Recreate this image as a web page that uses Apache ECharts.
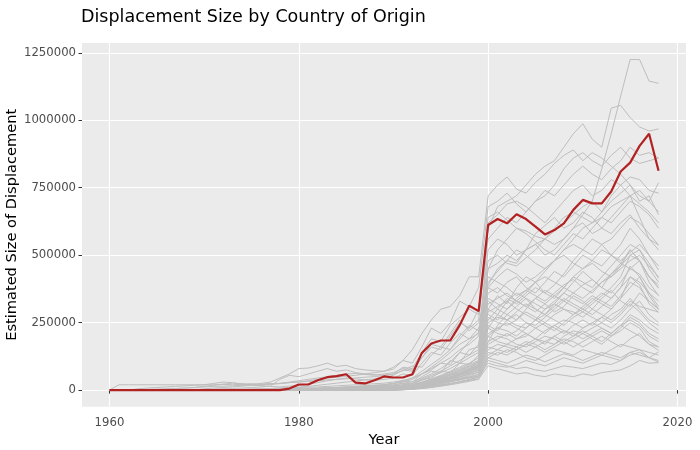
<!DOCTYPE html>
<html>
<head>
<meta charset="utf-8">
<script src="https://cdn.jsdelivr.net/npm/echarts@6/dist/echarts.min.js"></script>
<style>html,body{margin:0;padding:0;background:#fff}#c{width:700px;height:450px}</style>
</head>
<body>
<div id="c"></div>
<script>
// Years (x categories)
const years = [1960,1961,1962,1963,1964,1965,1966,1967,1968,1969,
1970,1971,1972,1973,1974,1975,1976,1977,1978,1979,
1980,1981,1982,1983,1984,1985,1986,1987,1988,1989,
1990,1991,1992,1993,1994,1995,1996,1997,1998,1999,
2000,2001,2002,2003,2004,2005,2006,2007,2008,2009,
2010,2011,2012,2013,2014,2015,2016,2017,2018];

// Highlighted country (full units)
const highlight = [0,0,0,0,0,0,0,0,0,0,
0,0,0,0,0,0,0,0,0,6000,
21000,21000,37000,48000,52000,59000,28000,25000,37000,51000,
47000,47000,59000,138000,173000,184000,184000,241000,313000,293000,
612000,634000,618000,652000,634000,606000,577000,593000,618000,668000,
705000,692000,692000,736000,810000,843000,905000,950000,813000];

// Other countries (values in thousands)
const UNIT = 1000;
const g1 = [0,0,0,0,0,0,0,0,0,0, 0,0,1,1,1,2,2,3,3,4, 5,6,7,8,9,10,12,13,15,17, 20,25,32,45,60,80,105,140,180,215, 390,450,480,470,520,540,560,590,620,650, 680,700,820,950,1090,1225,1225,1145,1137];
const g2 = [0,0,0,0,0,0,0,0,0,0, 0,0,0,1,1,1,2,2,3,3, 4,5,6,7,8,9,11,13,16,20, 25,32,45,70,95,120,150,190,230,260, 600,680,700,720,760,800,830,850,900,950, 987,930,900,1045,1055,1010,975,960,968];
const g3 = [0,20,20,20,20,20,20,20,20,20, 20,20,22,20,22,24,22,25,24,28, 30,35,40,45,48,52,55,60,65,70, 85,110,150,210,260,300,310,350,420,420, 720,760,790,745,730,770,800,840,870,890, 850,880,860,830,800,760,720,700,768];
const g4 = [0,0,0,2,3,4,5,6,8,10, 12,14,15,16,18,20,25,30,45,60, 80,82,90,100,88,92,80,75,72,70, 78,110,100,160,230,210,250,330,310,380, 680,700,730,690,660,700,740,720,760,800, 830,800,780,820,850,900,870,880,860];
const g5 = [0,0,0,0,0,1,1,2,2,3, 3,4,5,6,8,10,12,15,40,55, 50,60,70,80,70,75,65,60,58,55, 60,85,80,140,190,180,240,270,300,280, 640,660,630,600,590,570,560,540,560,600, 650,700,660,720,760,790,780,740,730];
const g6 = [0,0,0,0,0,0,0,0,0,0, 1,1,2,2,3,4,5,6,8,10, 12,14,18,22,26,30,34,38,42,48, 55,75,70,120,160,150,200,250,230,300, 560,600,640,620,660,700,720,760,820,860, 880,850,830,870,900,860,840,850,860];
const g7 = [0,0,0,0,0,0,0,0,0,0, 0,0,0,0,0,0,0,0,0,0, 2,4,6,8,10,12,14,16,18,20, 25,30,40,60,85,110,140,170,190,210, 520,560,540,500,520,580,610,640,600,620, 660,640,600,580,620,650,600,560,538];
const g8 = [0,0,0,0,0,0,0,0,0,0, 0,0,1,2,3,4,5,6,7,8, 10,11,12,14,16,18,20,22,24,26, 30,36,45,60,80,100,120,150,170,200, 480,500,470,460,490,520,560,600,640,660, 640,620,660,700,730,760,700,720,650];
const g9 = [0,0,0,0,0,0,0,0,0,0, 0,1,1,1,2,2,3,3,4,5, 6,7,8,9,10,12,14,16,18,20, 24,35,30,60,75,100,95,140,130,170, 450,470,500,480,520,540,500,520,560,600, 620,580,600,640,680,720,690,660,620];
const g10 = [0,0,0,0,0,0,0,0,0,0, 0,0,0,0,0,0,1,1,2,2, 3,4,5,6,7,8,9,10,12,14, 18,26,24,50,70,65,110,100,150,160, 420,400,380,350,370,400,440,480,520,560, 600,620,640,680,700,720,640,560,520];
const g11 = [0,0,0,0,0,0,0,0,0,0, 0,0,0,0,0,0,0,0,0,0, 1,2,3,4,5,6,8,10,12,14, 16,20,26,40,55,70,90,110,130,150, 400,440,480,520,500,470,450,480,520,540, 520,500,540,560,600,640,620,580,538];
const g12 = [0,0,0,0,0,0,0,0,0,0, 0,0,0,0,0,0,0,0,1,1, 2,3,4,5,6,7,8,9,10,12, 14,18,24,36,50,65,80,100,120,140, 380,360,400,420,380,360,400,440,420,460, 500,480,460,500,540,600,560,500,445];
const g13 = [0,0,0,0,0,0,0,0,0,0, 0,0,0,0,0,0,0,0,0,0, 0,1,2,3,4,5,6,7,8,10, 12,20,18,40,45,70,65,100,95,130, 360,380,350,330,360,400,420,400,380,420, 450,470,440,420,460,500,520,470,415];
const g14 = [0,0,0,0,0,0,0,0,0,0, 0,0,0,0,0,0,0,0,0,0, 0,0,1,2,3,4,5,6,7,8, 10,14,20,30,42,55,70,85,100,120, 340,320,300,340,370,350,330,360,390,410, 380,360,400,430,470,520,480,420,378];
const g15 = [0,0,0,0,0,0,0,0,0,0, 0,0,0,0,0,0,0,0,0,0, 0,0,0,1,2,3,4,5,6,7, 9,12,18,28,40,52,66,80,95,110, 320,340,360,330,310,340,370,350,330,360, 390,410,380,360,400,450,430,380,352];
const g16 = [0,0,0,0,0,0,0,0,0,0, 0,0,0,0,0,0,0,0,0,0, 0,0,0,0,1,2,3,4,5,6, 8,11,16,26,38,50,62,76,90,105, 300,280,260,290,320,300,280,310,340,320, 300,330,360,340,380,420,400,360,330];
const g17 = [0,0,0,0,0,0,0,0,0,0, 0,0,0,0,0,0,0,0,0,0, 0,0,0,0,0,1,2,3,4,5, 7,10,14,24,35,46,58,70,84,100, 290,310,330,300,280,260,300,320,300,280, 310,340,320,300,340,380,420,360,310];
const g18 = [0,0,0,0,0,0,0,0,0,0, 0,0,0,0,0,0,0,0,0,0, 0,0,0,0,0,0,1,2,3,4, 6,9,13,22,32,42,54,66,80,95, 270,250,240,260,290,270,250,280,300,290, 270,300,280,260,290,330,310,300,289];
const g19 = [0,0,0,0,0,0,0,0,0,0, 0,0,0,0,0,0,0,0,0,0, 0,0,0,0,0,0,0,1,2,3, 5,8,12,20,30,40,50,62,75,90, 250,270,260,240,230,260,280,260,240,270, 290,270,250,280,300,340,300,260,240];
const g20 = [0,0,0,0,0,0,0,0,0,0, 0,0,0,0,0,0,0,0,0,0, 0,0,0,0,0,0,0,0,1,2, 4,7,11,18,28,38,48,58,70,85, 230,210,200,220,250,230,210,240,260,250, 230,250,270,250,280,320,290,250,222];
const g21 = [0,0,0,0,0,0,0,0,0,0, 0,0,0,0,0,0,0,0,0,0, 0,0,0,0,0,0,0,0,0,1, 3,6,10,16,26,35,45,55,66,80, 210,230,250,230,210,190,220,240,220,200, 230,250,230,210,240,280,260,230,210];
const g22 = [0,0,0,0,0,0,0,0,0,0, 0,0,0,0,0,0,0,0,0,0, 1,2,3,4,5,6,7,8,9,10, 12,15,20,28,38,48,56,64,72,80, 200,180,170,190,210,190,170,200,220,210, 190,210,230,210,240,260,240,200,180];
const g23 = [0,0,0,0,0,0,0,0,0,0, 0,0,0,0,0,0,0,0,0,0, 0,0,1,2,3,4,5,6,7,8, 10,13,17,24,32,40,48,56,64,72, 180,200,190,170,160,180,200,190,170,190, 210,190,170,200,220,250,230,180,160];
const g24 = [0,0,0,0,0,0,0,0,0,0, 0,0,0,0,0,0,0,0,0,0, 0,0,0,0,1,2,3,4,5,6, 8,11,15,21,28,35,42,50,58,66, 160,150,140,160,180,170,150,170,190,180, 160,180,200,180,160,190,210,170,148];
const g25 = [0,0,0,0,0,0,0,0,0,0, 0,0,0,0,0,0,0,0,0,0, 0,0,0,0,0,0,1,2,3,4, 6,9,13,18,24,30,36,43,50,58, 140,130,150,140,120,110,130,150,140,130, 150,140,130,150,170,160,150,140,130];
const g26 = [0,0,0,0,0,0,0,0,0,0, 0,0,0,0,0,0,0,0,0,0, 0,0,0,0,0,0,0,0,1,2, 4,7,10,15,20,26,32,38,45,52, 120,110,100,115,130,120,105,120,135,125, 110,125,140,130,120,140,150,120,104];
const g27 = [0,0,0,0,0,0,0,0,0,0, 0,0,0,0,0,0,0,0,0,0, 0,0,0,0,0,0,0,0,0,1, 2,4,7,11,15,20,25,30,36,42, 90,80,70,60,65,55,50,60,55,50, 60,55,65,70,75,90,110,100,102];
const g28 = [0,0,0,0,0,0,0,0,0,0, 0,0,0,0,0,0,0,0,0,0, 0,0,0,0,0,0,0,1,2,3, 5,8,12,17,22,28,34,40,46,52, 100,90,85,95,110,100,90,105,120,110, 100,115,130,120,110,130,140,120,142];
const g29 = [0,0,0,0,0,0,0,0,0,0, 0,0,0,0,0,0,0,0,0,0, 0,0,0,0,0,1,2,3,4,5, 7,10,15,24,34,45,58,72,88,105, 260,300,340,320,350,380,360,340,380,420, 400,380,420,460,500,540,520,450,400];
const g30 = [0,0,0,0,0,0,0,0,0,0, 0,0,0,0,0,0,0,0,0,0, 0,0,0,0,0,0,0,1,2,3, 5,8,12,19,28,38,49,60,72,86, 240,220,260,280,250,240,270,300,330,310, 290,320,350,380,420,500,480,420,380];
const g31 = [0,0,0,0,0,0,0,0,0,0, 0,0,0,0,0,0,0,0,0,0, 0,0,0,0,0,0,0,0,0,1, 3,5,9,15,22,30,40,50,62,75, 200,230,220,200,230,260,240,220,250,280, 300,280,310,340,380,460,420,350,300];
const g32 = [0,0,0,0,0,0,0,0,0,0, 0,0,0,0,0,0,0,0,0,0, 0,0,0,0,0,0,0,0,0,0, 2,4,7,12,18,26,34,44,54,66, 170,190,210,190,200,230,250,230,210,240, 260,240,270,300,340,420,390,320,289];
const g33 = [0,0,0,0,0,0,0,0,0,0, 0,0,0,0,0,0,0,0,0,0, 0,0,0,0,0,0,0,0,0,0, 1,3,6,10,15,22,30,38,48,58, 150,170,160,150,170,190,180,170,200,220, 210,230,250,230,260,300,330,280,250];
const g34 = [0,0,0,0,0,0,0,0,0,0, 0,0,0,0,0,0,0,0,0,0, 0,0,0,0,0,0,0,0,0,0, 1,2,4,8,12,18,24,32,40,50, 130,150,170,160,140,160,180,200,180,160, 180,200,220,200,230,270,250,210,190];
const g35 = [0,0,0,5,8,10,12,14,16,18, 20,25,30,28,22,20,18,22,25,30, 35,40,45,50,55,60,62,58,55,60, 65,80,75,120,170,160,210,260,220,250, 380,420,450,430,400,420,450,480,500,470, 450,480,520,500,480,510,540,500,460];
const g36 = [0,0,0,0,0,2,4,6,8,10, 14,18,22,26,24,20,16,14,12,15, 18,22,28,35,40,45,42,38,36,40, 45,60,55,100,140,130,175,210,190,230, 330,300,280,310,340,320,300,330,360,340, 320,350,330,310,350,400,380,330,300];
const g37 = [0,0,0,0,0,0,0,0,0,0, 5,8,10,12,15,18,20,22,25,28, 30,32,35,38,40,42,45,48,50,55, 60,72,90,85,130,160,150,200,240,220, 280,260,300,330,310,290,320,350,380,360, 340,370,400,420,450,480,500,460,420];
const g38 = [0,0,0,0,0,0,0,0,0,0, 0,0,0,0,0,0,0,0,0,0, 0,0,0,0,0,0,0,0,0,0, 0,1,3,6,10,15,20,26,33,40, 110,100,90,80,85,75,70,80,90,85, 80,90,100,95,110,140,130,120,110];
const g39 = [0,0,0,0,0,0,0,0,0,0, 0,0,0,0,0,0,0,0,0,0, 0,0,0,0,0,0,0,0,0,0, 0,2,5,10,18,28,40,55,70,90, 300,350,320,380,420,400,360,390,430,480, 520,560,540,500,470,450,480,420,390];
const g40 = [0,0,0,0,0,0,0,0,0,0, 0,0,0,0,0,0,0,0,0,0, 0,0,0,0,0,1,1,2,2,3, 3,6,10,18,26,36,48,62,78,95, 180,240,280,260,300,340,320,290,310,350, 330,300,340,370,330,310,360,330,300];
const g41 = [0,0,0,0,0,0,0,0,0,0, 0,0,0,0,0,0,0,0,0,0, 0,0,0,0,0,0,0,0,1,1, 2,4,8,14,22,32,44,58,74,92, 450,520,560,600,580,550,520,500,540,580, 560,600,640,620,660,700,680,650,600];
const g42 = [0,0,0,0,0,0,0,0,0,0, 0,0,0,0,0,0,0,0,0,0, 0,0,0,0,0,0,0,0,0,0, 1,3,6,11,18,26,36,48,60,75, 230,280,330,360,340,300,280,320,360,400, 440,410,380,430,460,520,480,400,350];
const g43 = [0,0,0,0,0,0,0,0,0,0, 0,0,0,0,0,0,0,0,0,0, 0,0,0,0,0,0,0,1,1,2, 2,5,9,15,24,34,46,60,76,110, 620,650,690,700,680,650,620,660,700,740, 760,720,740,780,760,720,740,700,660];
const g44 = [0,0,0,0,0,0,0,0,0,0, 0,0,0,0,0,0,0,0,0,0, 0,0,0,0,0,0,0,0,0,0, 1,2,4,7,11,16,22,30,38,48, 120,140,130,150,170,160,140,160,180,200, 220,200,180,210,240,220,200,170,160];
const others = [g1,g2,g3,g4,g5,g6,g7,g8,g9,g10,g11,g12,g13,g14,g15,g16,g17,g18,g19,g20,
g21,g22,g23,g24,g25,g26,g27,g28,g29,g30,g31,g32,g33,g34,g35,g36,g37,g38,g39,g40,g41,g42,g43,g44];

// Tick labels
const xTicks = [1960, 1980, 2000, 2020];
const yTicks = [0, 250000, 500000, 750000, 1000000, 1250000];

const FONT = 'DejaVu Sans';
const series = others.map(function (arr, i) {
  return {
    type: 'line', name: 'c' + (i + 1), symbol: 'none', silent: true, z: 2,
    lineStyle: { color: '#BEBEBE', width: 1 },
    data: arr.map(function (v, j) { return [years[j], v * UNIT]; })
  };
});
series.push({
  type: 'line', name: 'highlight', symbol: 'none', silent: true, z: 5,
  lineStyle: { color: '#B22222', width: 2.2 },
  data: highlight.map(function (v, j) { return [years[j], v]; })
});

const chart = echarts.init(document.getElementById('c'), null, { renderer: 'canvas' });
chart.setOption({
  animation: false,
  backgroundColor: '#FFFFFF',
  title: {
    text: 'Displacement Size by Country of Origin',
    left: 81, top: 8, padding: 0,
    textStyle: { fontFamily: FONT, fontSize: 17.5, fontWeight: 'normal', color: '#000000' }
  },
  grid: {
    left: 82, right: 14, top: 43, bottom: 43.3,
    outerBoundsMode: 'none', containLabel: false,
    show: true, backgroundColor: '#EBEBEB', borderWidth: 0
  },
  xAxis: {
    type: 'value', min: 1957.1, max: 2020.9,
    name: 'Year', nameLocation: 'middle', nameGap: 26, nameMoveOverlap: false,
    nameTextStyle: { fontFamily: FONT, fontSize: 14.6, color: '#000000' },
    axisLine: { show: false },
    axisTick: { show: true, length: 3.5, customValues: xTicks, lineStyle: { color: '#333333', width: 1 } },
    axisLabel: { customValues: xTicks, margin: 10, fontFamily: FONT, fontSize: 11.7, color: '#4D4D4D',
      formatter: function (v) { return String(v); } },
    splitLine: { show: true, lineStyle: { color: '#FFFFFF', width: 1.1 } }
  },
  yAxis: {
    type: 'value', min: -61250, max: 1286250,
    name: 'Estimated Size of Displacement', nameLocation: 'middle', nameGap: 62, nameRotate: 90,
    nameMoveOverlap: false,
    nameTextStyle: { fontFamily: FONT, fontSize: 14.6, color: '#000000' },
    axisLine: { show: false },
    axisTick: { show: true, length: 3.5, customValues: yTicks, lineStyle: { color: '#333333', width: 1 } },
    axisLabel: { customValues: yTicks, margin: 6, fontFamily: FONT, fontSize: 11.7, color: '#4D4D4D',
      formatter: function (v) { return String(v); } },
    splitLine: { show: true, lineStyle: { color: '#FFFFFF', width: 1.1 } }
  },
  series: series
});
</script>
</body>
</html>
